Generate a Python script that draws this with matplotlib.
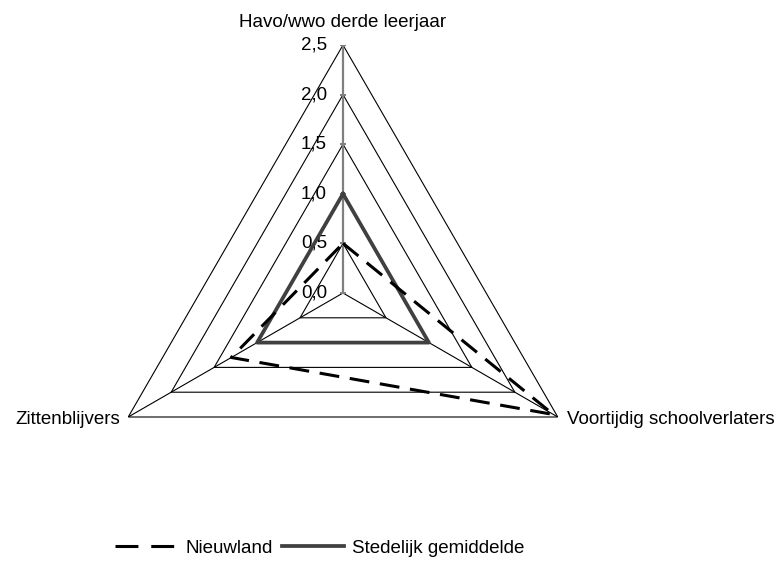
import numpy as np
import matplotlib
matplotlib.use("Agg")
import matplotlib.pyplot as plt
from matplotlib.lines import Line2D

plt.rcParams['font.family'] = ['Liberation Sans', 'DejaVu Sans']

categories = ["Havo/wwo derde leerjaar", "Voortijdig schoolverlaters", "Zittenblijvers"]
nieuwland = [0.5, 2.45, 1.3]
stedelijk = [1.0, 1.0, 1.0]
levels = [0.0, 0.5, 1.0, 1.5, 2.0, 2.5]
level_labels = ["0,0", "0,5", "1,0", "1,5", "2,0", "2,5"]
series_names = ["Nieuwland", "Stedelijk gemiddelde"]

W, H = 783, 565
fig = plt.figure(figsize=(W / 100, H / 100), dpi=100)
cx, cy, R = 343, 293, 248
ax = fig.add_axes([(cx - R) / W, (H - cy - R) / H, 2 * R / W, 2 * R / H], projection='polar')
ax.set_theta_zero_location('N')
ax.set_theta_direction(-1)
ax.set_ylim(0, levels[-1])
ax.grid(False)
ax.set_xticks([])
ax.set_yticks([])
ax.spines['polar'].set_visible(False)
ax.patch.set_alpha(0)

n = len(categories)
theta = np.linspace(0, 2 * np.pi, n, endpoint=False)
theta_c = np.append(theta, theta[0])

# triangular grid
for lv in levels[1:]:
    ax.plot(theta_c, [lv] * (n + 1), color='black', lw=0.8, zorder=1)
# spokes
for i, t in enumerate(theta):
    if i == 0:
        ax.plot([t, t], [0, levels[-1]], color='#808080', lw=1.6, zorder=2)
    else:
        ax.plot([t, t], [0, levels[-1]], color='black', lw=0.8, zorder=1)
# tick marks on value axis
ax.plot([0] * len(levels), levels, linestyle='none', marker='_', markersize=5,
        color='#808080', markeredgewidth=1.2, zorder=2)

fs = 13.5
for lv, lab in zip(levels, level_labels):
    ax.annotate(lab, xy=(0, lv), xytext=(-11.5, 0), textcoords='offset points',
                ha='right', va='center', fontsize=fs, annotation_clip=False)

# series
v1 = nieuwland + [nieuwland[0]]
v2 = stedelijk + [stedelijk[0]]
ax.plot(theta_c, v2, color='#404040', lw=2.7, zorder=3)
ax.plot(theta_c, v1, color='black', lw=2.2, dashes=(6.5, 3.5), zorder=4)

# category labels
ax.annotate(categories[0], xy=(theta[0], levels[-1]), xytext=(0, 10), textcoords='offset points',
            ha='center', va='bottom', fontsize=fs, annotation_clip=False)
ax.annotate(categories[1], xy=(theta[1], levels[-1]), xytext=(7, -2), textcoords='offset points',
            ha='left', va='center', fontsize=fs, annotation_clip=False)
ax.annotate(categories[2], xy=(theta[2], levels[-1]), xytext=(-6, -2), textcoords='offset points',
            ha='right', va='center', fontsize=fs, annotation_clip=False)

handles = [Line2D([], [], color='black', lw=2.2, dashes=(7.5, 4.2)),
           Line2D([], [], color='#404040', lw=2.7)]
fig.legend(handles, series_names, loc='center', bbox_to_anchor=(320 / W, 1 - 548 / H),
           ncol=2, frameon=False, fontsize=fs, handlelength=3.3, handletextpad=0.45,
           columnspacing=0.5)

fig.savefig('out.png', dpi=100)
